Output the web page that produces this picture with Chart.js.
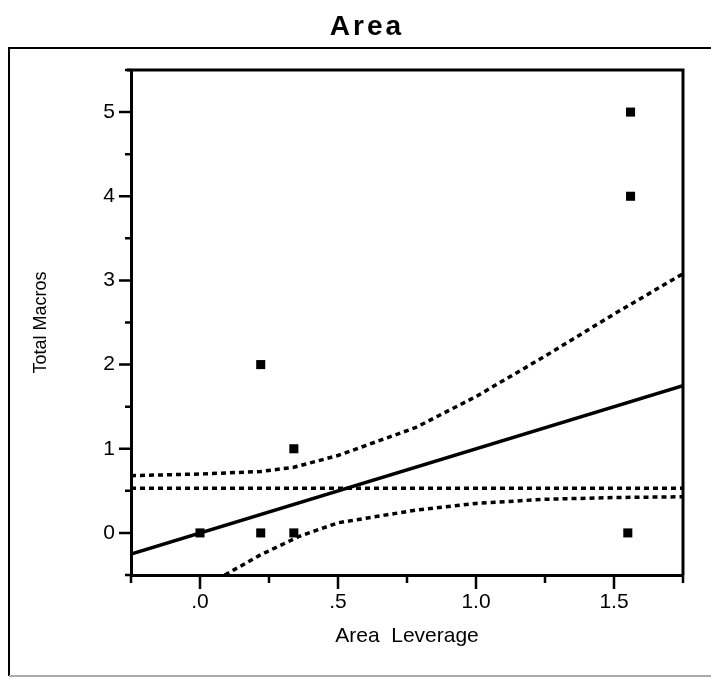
<!DOCTYPE html>
<html>
<head>
<meta charset="utf-8">
<script src="https://cdn.jsdelivr.net/npm/chart.js@4.4.1/dist/chart.umd.min.js"></script>
<style>
  html, body { margin: 0; padding: 0; background: #fff; }
</style>
</head>
<body>
<canvas id="leverageChart" width="711" height="680"></canvas>
<script>
// observed points (Area leverage vs total macros)
const pointX = [0, 0.22, 0.34, 0.22, 0.34, 1.55, 1.56, 1.56];
const pointY = [0, 0, 0, 2, 1, 0, 4, 5];

// fitted line and horizontal mean line
const fitX = [-0.25, 1.75];
const fitY = [-0.25, 1.75];
const meanX = [-0.25, 1.75];
const meanY = [0.53, 0.53];

// confidence curves
const upperX = [-0.25, 0, 0.22, 0.34, 0.5, 0.78, 1.0, 1.25, 1.5, 1.75];
const upperY = [0.68, 0.70, 0.73, 0.78, 0.92, 1.25, 1.62, 2.1, 2.6, 3.08];
const lowerX = [0.09, 0.22, 0.36, 0.5, 0.78, 1.0, 1.25, 1.5, 1.75];
const lowerY = [-0.5, -0.26, -0.04, 0.12, 0.27, 0.35, 0.4, 0.42, 0.43];

// tick labels
const xTickValues = [0, 0.5, 1, 1.5];
const xTickLabels = ['.0', '.5', '1.0', '1.5'];
const yTickValues = [0, 1, 2, 3, 4, 5];
const yTickLabels = ['0', '1', '2', '3', '4', '5'];

const toXY = (xs, ys) => xs.map((x, i) => ({ x: x, y: ys[i] }));
const near = (a, b) => Math.abs(a - b) < 1e-6;

const FONT = "'Liberation Sans', Arial, Helvetica, sans-serif";

const framePlugin = {
  id: 'frame',
  afterDraw(chart) {
    const ctx = chart.ctx;
    const { left, right, top, bottom } = chart.chartArea;
    const xs = chart.scales.x;
    const ys = chart.scales.y;
    ctx.save();

    // outer frame
    ctx.strokeStyle = '#000';
    ctx.lineWidth = 2;
    ctx.beginPath();
    ctx.moveTo(9, 676);
    ctx.lineTo(9, 48);
    ctx.lineTo(711, 48);
    ctx.stroke();
    ctx.strokeStyle = '#aaa';
    ctx.beginPath();
    ctx.moveTo(9, 676);
    ctx.lineTo(711, 676);
    ctx.stroke();

    // top and right border of plot
    ctx.strokeStyle = '#000';
    ctx.lineWidth = 3;
    ctx.beginPath();
    ctx.moveTo(left - 4, top);
    ctx.lineTo(right, top);
    ctx.lineTo(right, bottom);
    ctx.stroke();

    // tick marks, major ones longer
    ctx.lineWidth = 2.5;
    ctx.beginPath();
    xs.ticks.forEach(t => {
      const px = xs.getPixelForValue(t.value);
      const major = xTickValues.some(v => near(v, t.value));
      ctx.moveTo(px, bottom);
      ctx.lineTo(px, bottom + (major ? 14 : 8));
    });
    ys.ticks.forEach(t => {
      const py = ys.getPixelForValue(t.value);
      const major = yTickValues.some(v => near(v, t.value));
      ctx.moveTo(left, py);
      ctx.lineTo(left - (major ? 12 : 6), py);
    });
    ctx.stroke();

    // title with spaced letters
    ctx.fillStyle = '#000';
    ctx.font = 'bold 28px ' + FONT;
    ctx.textAlign = 'center';
    ctx.textBaseline = 'middle';
    ctx.letterSpacing = '3px';
    ctx.fillText('Area', 367, 27);
    ctx.restore();
  }
};

const lineStyle = (data, dashed) => ({
  type: 'scatter',
  data: data,
  showLine: true,
  borderColor: '#000',
  borderWidth: 3.5,
  borderDash: dashed ? [5, 4] : [],
  pointRadius: 0,
  fill: false
});

new Chart(document.getElementById('leverageChart'), {
  type: 'scatter',
  data: {
    datasets: [
      {
        data: toXY(pointX, pointY),
        pointStyle: 'rect',
        pointRadius: 6.4,
        backgroundColor: '#000',
        borderColor: '#000',
        borderWidth: 0
      },
      lineStyle(toXY(fitX, fitY), false),
      lineStyle(toXY(meanX, meanY), true),
      lineStyle(toXY(upperX, upperY), true),
      lineStyle(toXY(lowerX, lowerY), true)
    ]
  },
  options: {
    responsive: false,
    animation: false,
    events: [],
    layout: { padding: { left: 10, top: 70, right: 28, bottom: 20 } },
    plugins: {
      legend: { display: false },
      tooltip: { enabled: false },
      title: { display: false }
    },
    scales: {
      x: {
        type: 'linear',
        min: -0.25,
        max: 1.75,
        afterFit: (scale) => { scale.height = 85; },
        grid: { display: false, drawTicks: false },
        border: { display: true, color: '#000', width: 3 },
        ticks: {
          stepSize: 0.25,
          padding: 15,
          color: '#000',
          font: { family: FONT, size: 21 },
          callback: (value) => {
            const i = xTickValues.findIndex(v => near(v, value));
            return i >= 0 ? xTickLabels[i] : '';
          }
        },
        title: {
          display: true,
          text: 'Area  Leverage',
          color: '#000',
          font: { family: FONT, size: 21 },
          padding: { top: 0, bottom: 11 }
        }
      },
      y: {
        type: 'linear',
        min: -0.5,
        max: 5.5,
        afterFit: (scale) => { scale.width = 121; },
        grid: { display: false, drawTicks: false },
        border: { display: true, color: '#000', width: 3 },
        ticks: {
          stepSize: 0.5,
          padding: 16,
          color: '#000',
          font: { family: FONT, size: 21 },
          callback: (value) => {
            const i = yTickValues.findIndex(v => near(v, value));
            return i >= 0 ? yTickLabels[i] : '';
          }
        },
        title: {
          display: true,
          text: 'Total Macros',
          color: '#000',
          font: { family: FONT, size: 18 },
          padding: { top: 20, bottom: 0 }
        }
      }
    }
  },
  plugins: [framePlugin]
});
</script>
</body>
</html>
